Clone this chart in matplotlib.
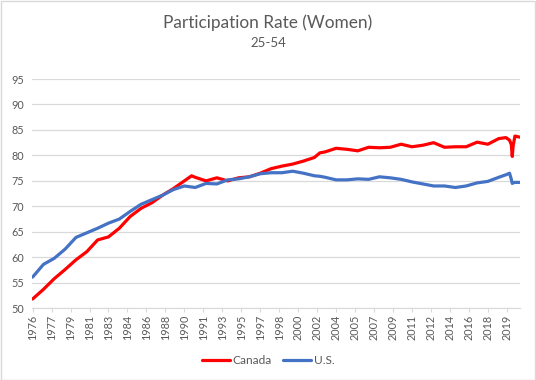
import matplotlib
matplotlib.use("Agg")
import matplotlib.pyplot as plt

# (year, month) of each reading
dates = [(1976, 1), (1977, 1), (1978, 1), (1979, 1), (1980, 1), (1981, 1),
         (1982, 1), (1983, 1), (1984, 1), (1985, 1), (1986, 1), (1987, 1),
         (1988, 1), (1989, 1), (1990, 1), (1990, 9), (1991, 1), (1992, 1),
         (1993, 1), (1994, 1), (1995, 1), (1996, 1), (1997, 1), (1998, 1),
         (1999, 1), (2000, 1), (2001, 1), (2002, 1), (2002, 7), (2003, 1),
         (2004, 1), (2005, 1), (2006, 1), (2007, 1), (2008, 1), (2009, 1),
         (2010, 1), (2011, 1), (2012, 1), (2013, 1), (2014, 1), (2015, 1),
         (2016, 1), (2017, 1), (2018, 1), (2019, 1), (2019, 9), (2020, 1),
         (2020, 3), (2020, 4), (2020, 5), (2020, 7), (2020, 12)]

canada = [51.8, 53.7, 55.8, 57.6, 59.5, 61.1,
          63.4, 64.0, 65.7, 68.0, 69.6, 70.7,
          72.2, 73.5, 75.0, 76.0, 75.7, 75.0,
          75.6, 75.0, 75.6, 75.8, 76.5, 77.4,
          77.9, 78.3, 78.9, 79.6, 80.5, 80.7,
          81.4, 81.2, 80.9, 81.6, 81.5, 81.6,
          82.2, 81.7, 82.0, 82.5, 81.6, 81.7,
          81.7, 82.6, 82.2, 83.3, 83.5, 83.0,
          82.1, 79.8, 81.9, 83.8, 83.6]

us = [56.1, 58.6, 59.8, 61.6, 63.9, 64.8,
      65.7, 66.7, 67.5, 69.0, 70.4, 71.3,
      72.2, 73.3, 74.0, 73.8, 73.7, 74.5,
      74.4, 75.2, 75.4, 75.8, 76.4, 76.6,
      76.6, 76.9, 76.5, 76.0, 75.9, 75.7,
      75.2, 75.2, 75.4, 75.3, 75.8, 75.6,
      75.3, 74.8, 74.4, 74.0, 74.0, 73.7,
      74.0, 74.6, 74.9, 75.7, 76.2, 76.5,
      75.3, 74.5, 74.6, 74.7, 74.7]

tick_years = [1976, 1977, 1979, 1981, 1983, 1984, 1986, 1988, 1990, 1991,
              1993, 1995, 1997, 1998, 2000, 2002, 2004, 2005, 2007, 2009,
              2011, 2012, 2014, 2016, 2018, 2019]

# months since Jan 1976 (category axis in the original)
x = [(y - 1976) * 12 + m - 1 for y, m in dates]

plt.rcParams['font.family'] = ['Lato', 'DejaVu Sans']
grey = '#595959'

fig = plt.figure(figsize=(5.36, 3.8), dpi=100)
ax = fig.add_axes([0.060, 0.189, 0.910, 0.603])

ax.plot(x, canada, color='#FF0000', lw=2.3, label='Canada', solid_capstyle='round')
ax.plot(x, us, color='#4472C4', lw=2.3, label='U.S.', solid_capstyle='round')

ax.set_ylim(50, 95)
ax.set_yticks(range(50, 96, 5))
ax.set_xlim(-0.5, 539.5)
ax.set_xticks([i * 21 for i in range(len(tick_years))])
ax.set_xticklabels([str(t) for t in tick_years], rotation=90)

ax.grid(axis='y', color='#D9D9D9', lw=0.9)
ax.set_axisbelow(True)
for s in ['top', 'right', 'left']:
    ax.spines[s].set_visible(False)
ax.spines['bottom'].set_color('#D9D9D9')
ax.tick_params(axis='y', length=0, colors=grey, labelsize=7.8, pad=6)
ax.tick_params(axis='x', length=3, color='#D9D9D9', colors=grey, labelsize=7.8, pad=2)

fig.text(0.5, 0.940, 'Participation Rate (Women)', ha='center', va='center',
         fontsize=12.4, color=grey)
fig.text(0.5, 0.886, '25-54', ha='center', va='center', fontsize=9.5, color=grey)

fig.legend(loc='center', bbox_to_anchor=(0.5, 0.052), ncol=2, frameon=False,
           fontsize=8.6, labelcolor=grey, handlelength=2.4, handletextpad=0.2,
           columnspacing=0.9)

fig.patches.append(plt.Rectangle((0.001, 0.001), 0.997, 0.997, transform=fig.transFigure,
                                 fill=False, edgecolor='#D9D9D9', lw=1))

fig.savefig('out.png', dpi=100)
